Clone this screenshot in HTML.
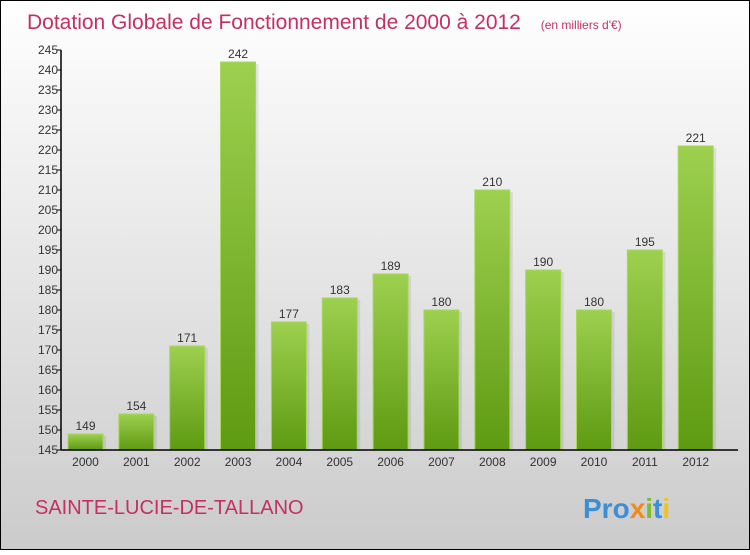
<!DOCTYPE html>
<html><head><meta charset="utf-8"><style>
body{margin:0}
svg text{font-family:"Liberation Sans",sans-serif}
</style></head><body>
<svg width="750" height="550" xmlns="http://www.w3.org/2000/svg">
<defs>
<linearGradient id="bg" x1="0" y1="0" x2="0" y2="1"><stop offset="0" stop-color="#ffffff"/><stop offset="1" stop-color="#cbcbcb"/></linearGradient>
<linearGradient id="bar" x1="0" y1="0" x2="0" y2="1"><stop offset="0" stop-color="#9dd04f"/><stop offset="1" stop-color="#5e9a12"/></linearGradient>
</defs>
<rect x="0.5" y="0.5" width="749" height="549" fill="url(#bg)" stroke="#000"/>
<text x="27" y="29" font-size="21" fill="#c4305f">Dotation Globale de Fonctionnement de 2000 à 2012 <tspan font-size="12" dx="14">(en milliers d'€)</tspan></text>
<g id="bars"></g>
<g id="axes"></g>
<text x="35" y="514" font-size="20" fill="#c4305f">SAINTE-LUCIE-DE-TALLANO</text>
<text x="583" y="518" font-size="28" font-weight="bold"><tspan fill="#3a8fd6">Pro</tspan><tspan fill="#f08a1c">x</tspan><tspan fill="#7bbf2a">i</tspan><tspan fill="#3a8fd6">t</tspan><tspan fill="#f0c419">i</tspan></text>
</svg>
<script>
const years=["2000","2001","2002","2003","2004","2005","2006","2007","2008","2009","2010","2011","2012"];
const values=[149,154,171,242,177,183,189,180,210,190,180,195,221];
const yTicks=[145,150,155,160,165,170,175,180,185,190,195,200,205,210,215,220,225,230,235,240,245];
const NS="http://www.w3.org/2000/svg";
const yMin=145,yMax=245,plotTop=50,plotBottom=450,plotLeft=61;
const y=v=>plotBottom-(v-yMin)/(yMax-yMin)*(plotBottom-plotTop);
const xc=i=>85.5+i*50.85;
const bw=35;
const bars=document.getElementById('bars'),axes=document.getElementById('axes');
function mk(tag,attrs,parent){const e=document.createElementNS(NS,tag);for(const k in attrs)e.setAttribute(k,attrs[k]);parent.appendChild(e);return e;}
values.forEach((v,i)=>{
 const sh=mk('rect',{x:xc(i)-bw/2+3,y:y(v)+2,width:bw,height:plotBottom-y(v)-2,fill:'#000','fill-opacity':0.08},bars);
 
 
 const r=mk('rect',{x:xc(i)-bw/2,y:y(v),width:bw,height:plotBottom-y(v),fill:'url(#bar)',stroke:'#a6d85a','stroke-width':1},bars);
 
 
 const t=mk('text',{x:xc(i),y:y(v)-4,'font-size':12,fill:'#333','text-anchor':'middle'},bars);
 t.textContent=v;
 
 
 const xl=mk('text',{x:xc(i),y:466,'font-size':12,fill:'#333','text-anchor':'middle'},axes);
 xl.textContent=years[i];
 
 
});
yTicks.forEach(v=>{
 const l=mk('line',{x1:plotLeft-4,x2:plotLeft,y1:y(v),y2:y(v),stroke:'#000'},axes);
 
 
 const t=mk('text',{x:plotLeft-3,y:y(v)+4,'font-size':12,fill:'#333','text-anchor':'end'},axes);
 t.textContent=v;
 
 
});
const ya=mk('line',{x1:plotLeft,x2:plotLeft,y1:plotTop,y2:plotBottom,stroke:'#000','stroke-width':1.5},axes);


const xa=mk('line',{x1:plotLeft,x2:738,y1:plotBottom,y2:plotBottom,stroke:'#000','stroke-width':1.5},axes);


</script>
</body></html>
